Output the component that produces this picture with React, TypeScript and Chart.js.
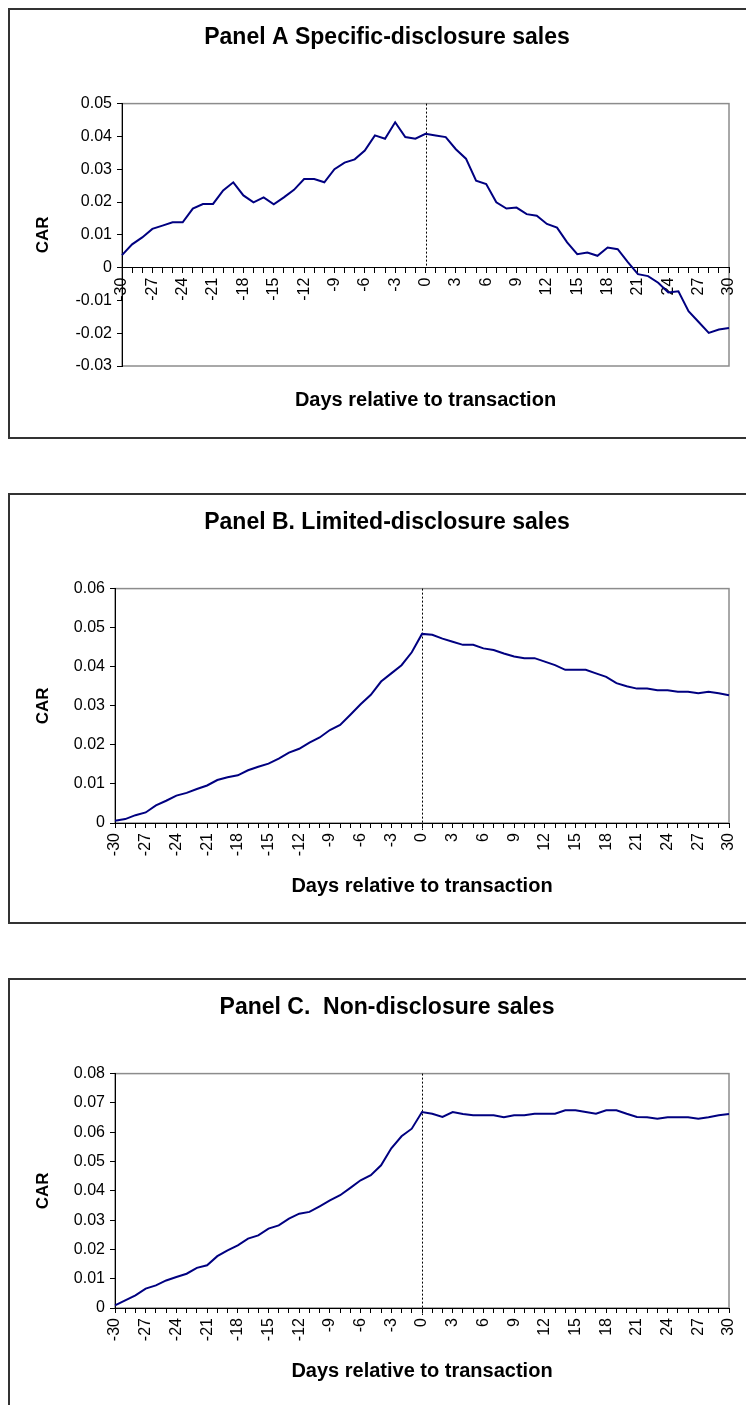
import { useEffect, useRef } from 'react';
import { Chart, registerables } from 'chart.js';

Chart.register(...registerables);

const FONT = '"Liberation Sans", Arial, Helvetica, sans-serif';
Chart.defaults.font.family = FONT;

const categories = [
  '-30', '-29', '-28', '-27', '-26', '-25', '-24', '-23', '-22', '-21',
  '-20', '-19', '-18', '-17', '-16', '-15', '-14', '-13', '-12', '-11',
  '-10', '-9', '-8', '-7', '-6', '-5', '-4', '-3', '-2', '-1',
  '0', '1', '2', '3', '4', '5', '6', '7', '8', '9',
  '10', '11', '12', '13', '14', '15', '16', '17', '18', '19',
  '20', '21', '22', '23', '24', '25', '26', '27', '28', '29', '30',
];

const xTickLabels = [
  '-30', '-27', '-24', '-21', '-18', '-15', '-12', '-9', '-6', '-3',
  '0', '3', '6', '9', '12', '15', '18', '21', '24', '27', '30',
];

const specificDisclosure = [
  0.0038, 0.0071, 0.0092, 0.0118, 0.0128, 0.0138, 0.0138, 0.0180, 0.0194, 0.0194,
  0.0235, 0.0260, 0.0220, 0.0199, 0.0214, 0.0193, 0.0214, 0.0237, 0.0270, 0.0270,
  0.0260, 0.0300, 0.0320, 0.0330, 0.0357, 0.0403, 0.0393, 0.0443, 0.0398, 0.0393,
  0.0408, 0.0403, 0.0398, 0.0361, 0.0332, 0.0265, 0.0255, 0.0199, 0.0180, 0.0183,
  0.0163, 0.0158, 0.0133, 0.0122, 0.0077, 0.0041, 0.0046, 0.0036, 0.0061, 0.0056,
  0.0017, -0.0020, -0.0026, -0.0046, -0.0076, -0.0072, -0.0133, -0.0166, -0.0199, -0.0189,
  -0.0184,
];

const limitedDisclosure = [
  0.0006, 0.0010, 0.0020, 0.0027, 0.0045, 0.0057, 0.0070, 0.0077, 0.0087, 0.0096,
  0.0110, 0.0117, 0.0122, 0.0135, 0.0144, 0.0152, 0.0165, 0.0180, 0.0190, 0.0206,
  0.0219, 0.0238, 0.0251, 0.0277, 0.0304, 0.0328, 0.0362, 0.0383, 0.0404, 0.0437,
  0.0484, 0.0482, 0.0472, 0.0464, 0.0456, 0.0456, 0.0447, 0.0443, 0.0434, 0.0426,
  0.0422, 0.0422, 0.0413, 0.0404, 0.0392, 0.0392, 0.0392, 0.0383, 0.0374, 0.0358,
  0.0350, 0.0344, 0.0344, 0.0340, 0.0340, 0.0336, 0.0336, 0.0332, 0.0336, 0.0332,
  0.0327,
];

const nonDisclosure = [
  0.0009, 0.0026, 0.0043, 0.0066, 0.0077, 0.0094, 0.0106, 0.0117, 0.0137, 0.0146,
  0.0177, 0.0197, 0.0214, 0.0237, 0.0248, 0.0271, 0.0282, 0.0305, 0.0322, 0.0328,
  0.0347, 0.0367, 0.0385, 0.0410, 0.0436, 0.0453, 0.0487, 0.0545, 0.0586, 0.0612,
  0.0669, 0.0663, 0.0652, 0.0669, 0.0662, 0.0658, 0.0658, 0.0658, 0.0651, 0.0658,
  0.0658, 0.0663, 0.0663, 0.0663, 0.0675, 0.0675, 0.0669, 0.0663, 0.0675, 0.0675,
  0.0663, 0.0652, 0.0651, 0.0646, 0.0651, 0.0651, 0.0651, 0.0646, 0.0651, 0.0658,
  0.0662,
];

const yTicksA = [-0.03, -0.02, -0.01, 0, 0.01, 0.02, 0.03, 0.04, 0.05];
const yTicksB = [0, 0.01, 0.02, 0.03, 0.04, 0.05, 0.06];
const yTicksC = [0, 0.01, 0.02, 0.03, 0.04, 0.05, 0.06, 0.07, 0.08];

const panelTitles = [
  'Panel A Specific-disclosure sales',
  'Panel B. Limited-disclosure sales',
  'Panel C.  Non-disclosure sales',
];
const xAxisTitle = 'Days relative to transaction';
const yAxisTitle = 'CAR';

const eventDay = '0';

const fmtY = (v: number) => {
  const n = Math.round(v * 100) / 100;
  return n === 0 ? '0' : String(n);
};

const plotFrame = {
  id: 'plotFrame',
  beforeDraw(chart: any) {
    const { ctx, chartArea: a } = chart;
    ctx.save();
    ctx.strokeStyle = '#8c8c8c';
    ctx.lineWidth = 1.5;
    ctx.strokeRect(a.left, a.top, a.right - a.left, a.bottom - a.top);
    ctx.restore();
  },
};

const eventLine = {
  id: 'eventLine',
  beforeDatasetsDraw(chart: any, _args: any, opts: any) {
    const { ctx, chartArea: a, scales } = chart;
    const x = Math.round(scales.x.getPixelForValue(categories.indexOf(eventDay))) + 0.5;
    const yEnd = scales.y.getPixelForValue(0) + (opts.extend || 0);
    ctx.save();
    ctx.beginPath();
    ctx.setLineDash([2, 2]);
    ctx.strokeStyle = '#000';
    ctx.lineWidth = 1;
    ctx.moveTo(x, a.top);
    ctx.lineTo(x, yEnd);
    ctx.stroke();
    ctx.restore();
  },
};

type PanelProps = {
  title: string;
  data: number[];
  yTicks: number[];
  top: number;
  axisAtZero: boolean;
  yWidth: number;
};

function Panel({ title, data, yTicks, top, axisAtZero, yWidth }: PanelProps) {
  const ref = useRef<HTMLCanvasElement | null>(null);

  useEffect(() => {
    if (!ref.current) return;
    const chart = new Chart(ref.current, {
      type: 'line',
      data: {
        labels: categories,
        datasets: [
          {
            data,
            borderColor: '#000080',
            borderWidth: 2,
            pointRadius: 0,
            tension: 0,
            fill: false,
          },
        ],
      },
      plugins: [plotFrame, eventLine],
      options: {
        responsive: false,
        animation: false,
        devicePixelRatio: 1,
        layout: { padding: { left: 0, right: 0, top: 0, bottom: axisAtZero ? 71 : 0 } },
        plugins: {
          legend: { display: false },
          tooltip: { enabled: false },
          title: {
            display: true,
            text: title,
            color: '#000',
            font: { size: 23, weight: 'bold', family: FONT },
            padding: { top: 14, bottom: 52 },
          },
          eventLine: { extend: axisAtZero ? 0 : 7 },
        } as any,
        scales: {
          x: {
            type: 'category',
            position: axisAtZero ? ({ y: 0 } as any) : 'bottom',
            offset: false,
            grid: {
              display: true,
              drawOnChartArea: false,
              drawTicks: true,
              tickLength: 5,
              color: '#000',
              lineWidth: 1,
            },
            border: { display: true, color: '#000', width: 1 },
            ticks: {
              autoSkip: false,
              minRotation: 90,
              maxRotation: 90,
              padding: 5,
              color: '#000',
              font: { size: 16, family: FONT },
              callback: (_v: any, i: number) =>
                xTickLabels.includes(categories[i]) ? categories[i] : '',
            },
            title: {
              display: true,
              text: xAxisTitle,
              color: '#000',
              font: { size: 20, weight: 'bold', family: FONT },
              padding: axisAtZero ? { top: 0, bottom: 0 } : { top: 0, bottom: 24 },
            },
            afterFit: (s: any) => {
              s.height = axisAtZero ? 145 : 99;
            },
          },
          y: {
            type: 'linear',
            position: 'left',
            min: yTicks[0],
            max: yTicks[yTicks.length - 1],
            afterBuildTicks: (s: any) => {
              s.ticks = yTicks.map((v) => ({ value: v }));
            },
            grid: {
              display: true,
              drawOnChartArea: false,
              drawTicks: true,
              tickLength: 5,
              color: '#000',
              lineWidth: 1,
            },
            border: { display: true, color: '#000', width: 1 },
            ticks: {
              padding: 5,
              color: '#000',
              font: { size: 16, family: FONT },
              callback: (v: any) => fmtY(Number(v)),
            },
            title: {
              display: true,
              text: yAxisTitle,
              color: '#000',
              font: { size: 17, weight: 'bold', family: FONT },
              padding: { top: 23, bottom: 0 },
            },
            afterFit: (s: any) => {
              s.width = yWidth;
            },
          },
          y2: {
            type: 'linear',
            position: 'right',
            display: true,
            grid: { display: false },
            border: { display: false },
            ticks: { display: false },
            afterFit: (s: any) => {
              s.width = 35;
            },
          },
        } as any,
      },
    } as any);
    return () => chart.destroy();
  }, [title, data, yTicks, axisAtZero, yWidth]);

  return (
    <div
      style={{
        position: 'absolute',
        left: 8,
        top,
        width: 758,
        height: 431,
        border: '2px solid #333',
        boxSizing: 'border-box',
        background: '#fff',
      }}
    >
      <canvas ref={ref} width={754} height={427} style={{ display: 'block' }} />
    </div>
  );
}

export default function App() {
  return (
    <div
      style={{
        position: 'fixed',
        left: 0,
        top: 0,
        width: 746,
        height: 1405,
        overflow: 'hidden',
        background: '#fff',
      }}
    >
      <Panel title={panelTitles[0]} data={specificDisclosure} yTicks={yTicksA} top={8} axisAtZero yWidth={112} />
      <Panel title={panelTitles[1]} data={limitedDisclosure} yTicks={yTicksB} top={493} axisAtZero={false} yWidth={105} />
      <Panel title={panelTitles[2]} data={nonDisclosure} yTicks={yTicksC} top={978} axisAtZero={false} yWidth={105} />
    </div>
  );
}
